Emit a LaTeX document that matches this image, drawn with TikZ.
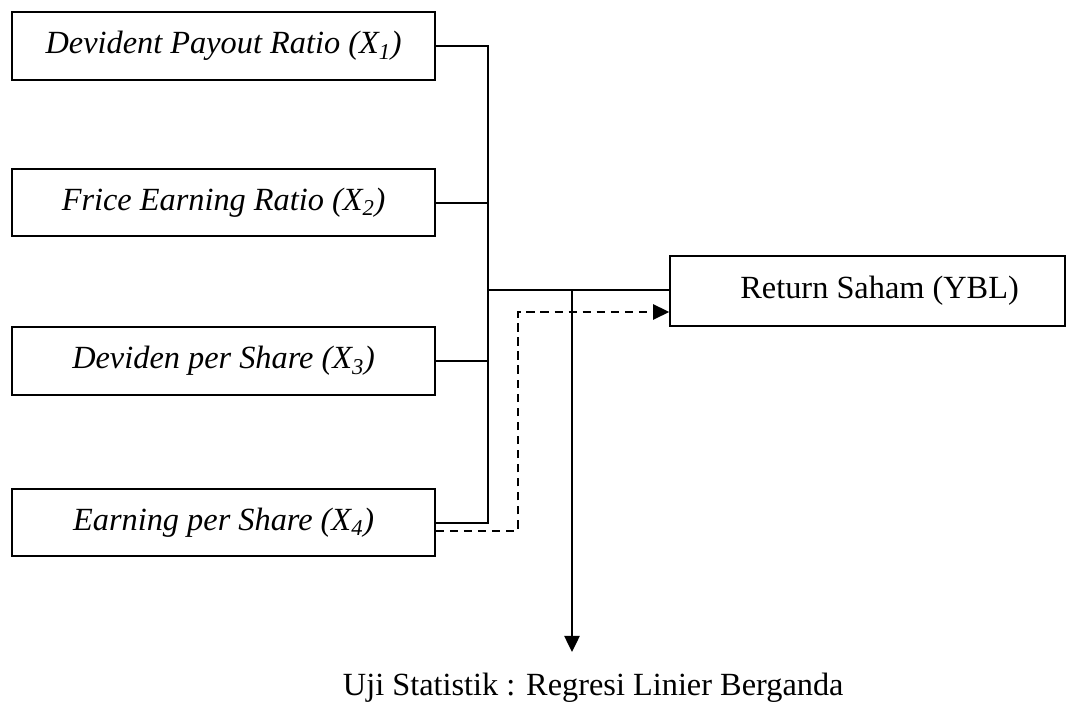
\documentclass[tikz,border=0pt]{standalone}
\usepackage{fontspec}
\setmainfont{Liberation Serif}
\usetikzlibrary{arrows.meta}

\tikzset{
	varbox/.style={draw,line width=1.3pt,minimum width=10.56cm,minimum height=1.69cm,inner sep=0pt,font=\fontsize{23}{28}\selectfont\itshape},
	wire/.style={line width=1.3pt},
	tip/.style={-{Triangle[length=0.4cm,width=0.38cm]}}
}

\begin{document}
\begin{tikzpicture}
		\useasboundingbox (0,0) rectangle (27.15,17.925);
		
		\node[varbox] (dpr) at (5.59,16.77) {Devident Payout Ratio (X\textsubscript{1})};
		\node[varbox] (per) at (5.59,12.86) {Frice Earning Ratio (X\textsubscript{2})};
		\node[varbox] (dps) at (5.59,8.90) {Deviden per Share (X\textsubscript{3})};
		\node[varbox] (eps) at (5.59,4.86) {Earning per Share (X\textsubscript{4})};
		
		\node[varbox,font=\fontsize{23}{28}\selectfont,minimum width=9.875cm,minimum height=1.75cm] (ret) at (21.69,10.65) {\hspace*{0.6cm}Return Saham (YBL)};
		
		\node[font=\fontsize{23}{28}\selectfont] (uji) at (14.83,0.72) {Uji Statistik : Regresi Linier Berganda};
		
		\coordinate (bus) at (12.2,10.675);
		\coordinate (split) at (14.3,10.675);
		\coordinate (down) at (14.3,1.625);
		\coordinate (dtop) at (12.95,10.125);
		
		% garis ke bus
		\draw[wire] (dpr.east) -| (bus);
		\draw[wire] (per.east) -| (bus);
		\draw[wire] (dps.east) -| (bus);
		\draw[wire] (eps.east) -| (bus);
		\draw[wire] (bus) -- (bus -| ret.west);
		
		\draw[wire,tip] (split) -- (down);
		
		% jalur putus-putus
		\draw[wire,tip,dash pattern=on 6pt off 4pt] ([yshift=-0.2cm]eps.east) -| (dtop) -- (dtop -| ret.west);
	
	\end{tikzpicture}
\end{document}
